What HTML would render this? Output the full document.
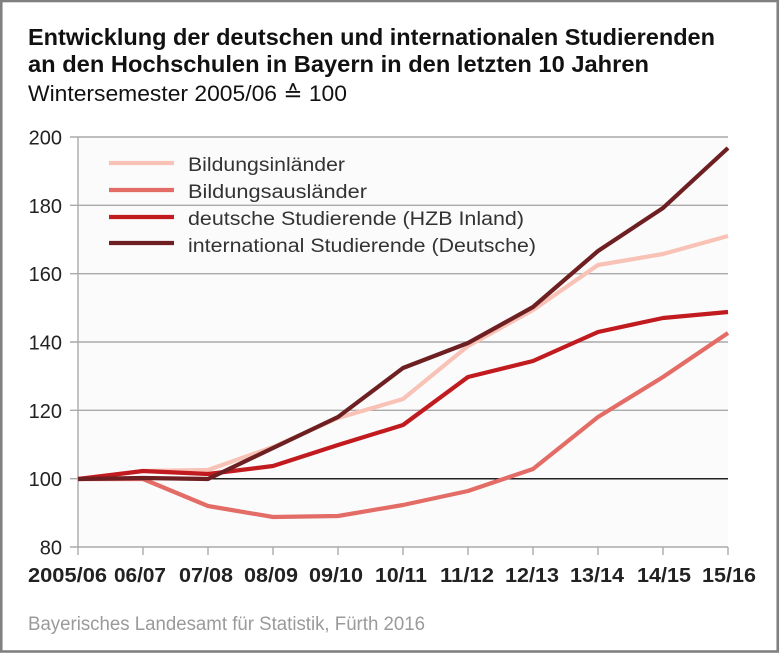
<!DOCTYPE html>
<html><head><meta charset="utf-8"><style>
html,body{margin:0;padding:0;background:#fff;}
svg{display:block;}
text{font-family:"Liberation Sans",Arial,sans-serif;}
</style></head><body>
<svg width="780" height="653" viewBox="0 0 780 653" xmlns="http://www.w3.org/2000/svg">
<rect x="0" y="0" width="780" height="653" fill="#fff"/>
<!-- border -->
<rect x="1.25" y="1" width="776.5" height="650.5" fill="none" stroke="#808080" stroke-width="2.6"/>
<!-- titles -->
<text x="28" y="45" font-size="23" font-weight="bold" fill="#111" textLength="687" lengthAdjust="spacingAndGlyphs">Entwicklung der deutschen und internationalen Studierenden</text>
<text x="28" y="72" font-size="23" font-weight="bold" fill="#111" textLength="621" lengthAdjust="spacingAndGlyphs">an den Hochschulen in Bayern in den letzten 10 Jahren</text>
<text x="28" y="101" font-size="22" fill="#111" textLength="319" lengthAdjust="spacingAndGlyphs">Wintersemester 2005/06 ≙ 100</text>
<!-- plot bg -->
<rect x="78" y="137" width="650" height="410" fill="#fbfbfb"/>
<!-- gridlines -->
<g stroke="#aaaaaa" stroke-width="1.4">
<line x1="70" y1="137" x2="728" y2="137"/>
<line x1="70" y1="205.3" x2="728" y2="205.3"/>
<line x1="70" y1="273.7" x2="728" y2="273.7"/>
<line x1="70" y1="342" x2="728" y2="342"/>
<line x1="70" y1="410.3" x2="728" y2="410.3"/>
<line x1="70" y1="478.7" x2="78" y2="478.7"/>
<line x1="70" y1="547" x2="728" y2="547"/>
<line x1="78" y1="137" x2="78" y2="555"/>
<line x1="143" y1="547" x2="143" y2="555"/>
<line x1="208" y1="547" x2="208" y2="555"/>
<line x1="273" y1="547" x2="273" y2="555"/>
<line x1="338" y1="547" x2="338" y2="555"/>
<line x1="403" y1="547" x2="403" y2="555"/>
<line x1="468" y1="547" x2="468" y2="555"/>
<line x1="533" y1="547" x2="533" y2="555"/>
<line x1="598" y1="547" x2="598" y2="555"/>
<line x1="663" y1="547" x2="663" y2="555"/>
<line x1="728" y1="547" x2="728" y2="555"/>
</g>
<line x1="78" y1="478.7" x2="728" y2="478.7" stroke="#222" stroke-width="1.5"/>
<!-- y labels -->
<g font-size="20" fill="#222" text-anchor="end">
<text x="62" y="144.5">200</text>
<text x="62" y="212.8">180</text>
<text x="62" y="281.2">160</text>
<text x="62" y="349.5">140</text>
<text x="62" y="417.8">120</text>
<text x="62" y="486.2">100</text>
<text x="62" y="554.5">80</text>
</g>
<!-- x labels -->
<g font-size="20" font-weight="bold" fill="#222">
<text x="28" y="582" textLength="79" lengthAdjust="spacingAndGlyphs">2005/06</text>
<text x="114" y="582" textLength="52" lengthAdjust="spacingAndGlyphs">06/07</text>
<text x="179" y="582" textLength="54" lengthAdjust="spacingAndGlyphs">07/08</text>
<text x="244" y="582" textLength="54" lengthAdjust="spacingAndGlyphs">08/09</text>
<text x="309" y="582" textLength="54" lengthAdjust="spacingAndGlyphs">09/10</text>
<text x="375" y="582" textLength="52" lengthAdjust="spacingAndGlyphs">10/11</text>
<text x="440" y="582" textLength="54" lengthAdjust="spacingAndGlyphs">11/12</text>
<text x="505" y="582" textLength="54" lengthAdjust="spacingAndGlyphs">12/13</text>
<text x="570" y="582" textLength="54" lengthAdjust="spacingAndGlyphs">13/14</text>
<text x="637" y="582" textLength="54" lengthAdjust="spacingAndGlyphs">14/15</text>
<text x="702" y="582" textLength="54" lengthAdjust="spacingAndGlyphs">15/16</text>
</g>
<!-- series -->
<g fill="none" stroke-width="4.2" stroke-linejoin="round">
<polyline stroke="#f8c3b6" points="78,479 143,471 208,470 273,447 338,418 403,399 468,346 533,310 598,265 663,254 728,236"/>
<polyline stroke="#e36c66" points="78,479 143,479 208,506 273,517 338,516 403,505 468,491 533,469 598,417 663,377 728,333"/>
<polyline stroke="#c11b20" points="78,479 143,471 208,474 273,466 338,445 403,425 468,377 533,361 598,332 663,318 728,312"/>
<polyline stroke="#6e1f22" points="78,479 143,478 208,479 273,448 338,417 403,368 468,343 533,307 598,251 663,208 728,148"/>
</g>
<!-- legend -->
<g stroke-width="4.2">
<line x1="109" y1="163" x2="174" y2="163" stroke="#f8c3b6"/>
<line x1="109" y1="190" x2="174" y2="190" stroke="#e36c66"/>
<line x1="109" y1="217" x2="174" y2="217" stroke="#c11b20"/>
<line x1="109" y1="243" x2="174" y2="243" stroke="#6e1f22"/>
</g>
<g font-size="19" fill="#333">
<text x="188" y="171" textLength="157" lengthAdjust="spacingAndGlyphs">Bildungsinländer</text>
<text x="188" y="198" textLength="179" lengthAdjust="spacingAndGlyphs">Bildungsausländer</text>
<text x="188" y="225" textLength="336" lengthAdjust="spacingAndGlyphs">deutsche Studierende (HZB Inland)</text>
<text x="188" y="252" textLength="348" lengthAdjust="spacingAndGlyphs">international Studierende (Deutsche)</text>
</g>
<!-- footer -->
<text x="28" y="630" font-size="19" fill="#9a9a9a" textLength="397" lengthAdjust="spacingAndGlyphs">Bayerisches Landesamt für Statistik, Fürth 2016</text>
</svg>
</body></html>
